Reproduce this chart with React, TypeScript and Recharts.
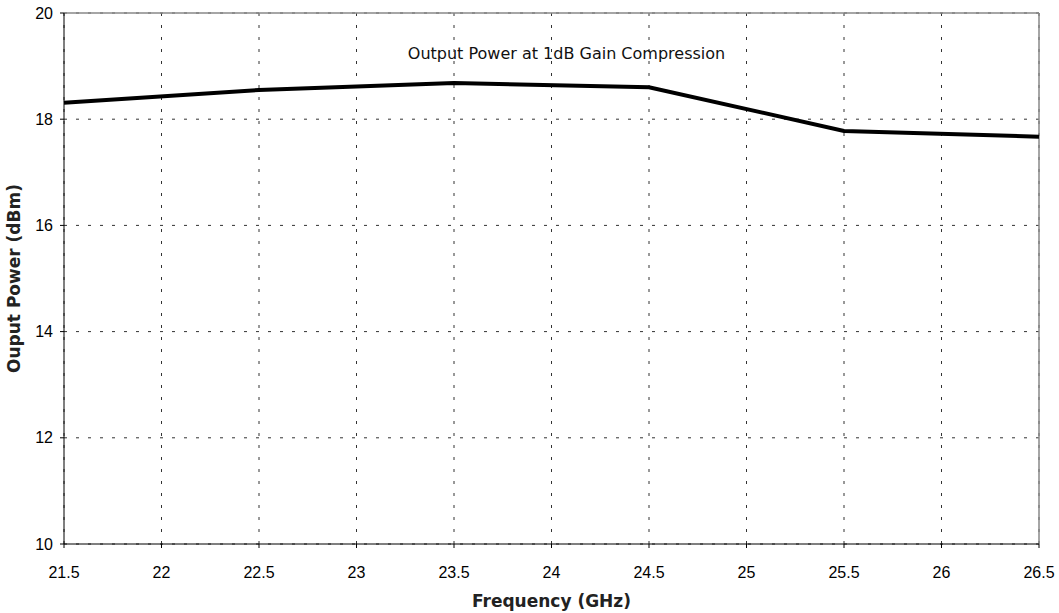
import { CartesianGrid, Label, Line, LineChart, ReferenceLine, XAxis, YAxis } from "recharts";

const freqs = [21.5, 22.5, 23.5, 24.5, 25.5, 26.5];
const power = [18.31, 18.55, 18.68, 18.6, 17.78, 17.67];
const xTicks = [21.5, 22, 22.5, 23, 23.5, 24, 24.5, 25, 25.5, 26, 26.5];
const yTicks = [10, 12, 14, 16, 18, 20];
const title = "Output Power at 1dB Gain Compression";

const data = freqs.map((f, i) => ({ f, p: power[i] }));
const font = "'DejaVu Sans', Verdana, sans-serif";
const tickFont = "'Liberation Sans', Arial, sans-serif";

export default function App() {
  return (
    <div style={{ position: "relative", width: 1059, height: 613, background: "#fff", fontFamily: font }}>
      <style>{"body{margin:0}"}</style>
      <LineChart width={1059} height={613} data={data} margin={{ top: 13, right: 20, left: 0, bottom: 0 }}>
        <CartesianGrid stroke="#333" strokeDasharray="3 9" horizontal vertical />
        <XAxis
          dataKey="f"
          type="number"
          domain={[21.5, 26.5]}
          ticks={xTicks}
          height={69}
          tickSize={4}
          tickMargin={19}
          stroke="#000"
          tick={{ fill: "#000", fontSize: 16, fontFamily: tickFont }}
        >
          <Label value="Frequency (GHz)" position="insideBottom" offset={6} style={{ fontSize: 17, fontWeight: 700, fill: "#222", fontFamily: font }} />
        </XAxis>
        <YAxis
          type="number"
          domain={[10, 20]}
          ticks={yTicks}
          width={64}
          tickSize={4}
          tickMargin={7}
          stroke="#000"
          tick={{ fill: "#000", fontSize: 16, fontFamily: tickFont }}
        >
          <Label value="Ouput Power (dBm)" angle={-90} position="insideLeft" offset={14} style={{ fontSize: 17, fontWeight: 700, fill: "#222", fontFamily: font, textAnchor: "middle" }} />
        </YAxis>
        <ReferenceLine y={20} stroke="#888" strokeWidth={1.5} />
        <ReferenceLine x={26.5} stroke="#888" strokeWidth={1.5} />
        <Line dataKey="p" stroke="#000" strokeWidth={4} dot={false} isAnimationActive={false} type="linear" />
      </LineChart>
      <div style={{ position: "absolute", left: 0, width: 1133, top: 44, textAlign: "center", fontSize: 16, lineHeight: "20px", color: "#111" }}>
        {title}
      </div>
    </div>
  );
}
